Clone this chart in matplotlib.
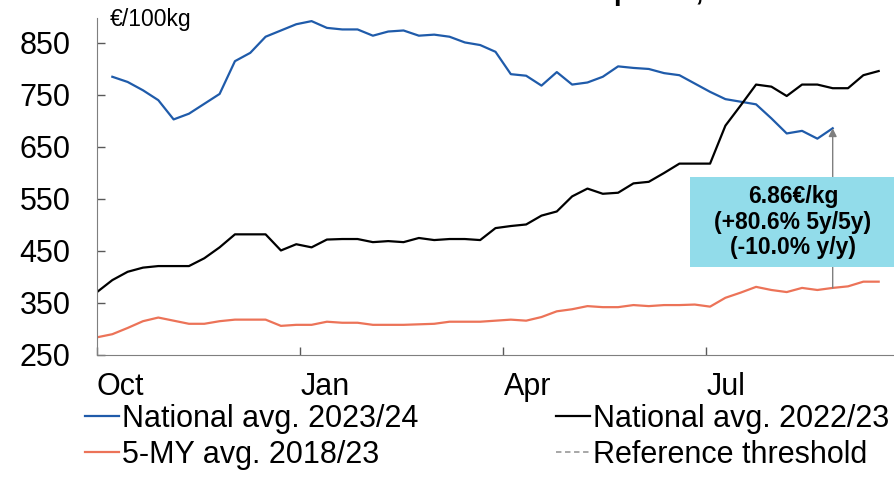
import numpy as np
import matplotlib
matplotlib.use("Agg")
import matplotlib.pyplot as plt
from matplotlib.patches import Rectangle

plt.rcParams['font.family'] = ['Liberation Sans', 'DejaVu Sans']

# weekly prices, €/100kg (marketing year Oct-Sep)
weeks_2324 = np.arange(1, 49)
nat_2324 = [785, 775, 759, 740, 703, 714, 733, 752, 815, 831, 862, 874, 886,
            892, 879, 876, 876, 864, 872, 874, 864, 866, 862, 851, 846, 833,
            790, 787, 768, 794, 770, 774, 785, 805, 802, 800, 792, 788, 772,
            756, 742, 737, 732, 705, 676, 681, 666, 686]

weeks_full = np.arange(0, 52)
nat_2223 = [371, 394, 410, 418, 421, 421, 421, 436, 457, 482, 482, 482, 451,
            463, 457, 472, 473, 473, 467, 469, 467, 475, 471, 473, 473, 471,
            494, 498, 501, 518, 526, 555, 570, 560, 562, 580, 583, 600, 618,
            618, 618, 691, 730, 770, 766, 748, 770, 770, 763, 763, 788, 796]
avg_5y = [284, 290, 302, 315, 322, 316, 310, 310, 315, 318, 318, 318, 306,
          308, 308, 314, 312, 312, 308, 308, 308, 309, 310, 314, 314, 314,
          316, 318, 316, 323, 334, 338, 344, 342, 342, 346, 344, 346, 346,
          347, 343, 360, 370, 381, 375, 371, 379, 375, 379, 382, 391, 391]

month_pos = [0, 13.26, 26.52, 39.74]
month_labels = ['Oct', 'Jan', 'Apr', 'Jul']

fig = plt.figure(figsize=(8.94, 4.79), dpi=100)
ax = fig.add_axes([97 / 894, 1 - 355 / 479, 1 - 97 / 894, (355 - 18) / 479])

l1, = ax.plot(weeks_2324, nat_2324, color='#1F5BAA', lw=1.6, label='National avg. 2023/24')
l2, = ax.plot(weeks_full, nat_2223, color='black', lw=1.6, label='National avg. 2022/23')
l3, = ax.plot(weeks_full, avg_5y, color='#EC7358', lw=1.6, label='5-MY avg. 2018/23')
l4, = ax.plot([], [], color='#A0A0A0', lw=1.3, ls=(0, (3, 2)), label='Reference threshold')

ax.set_xlim(0, 52)
ax.set_ylim(250, 898)
ax.set_yticks(range(250, 851, 100))
ax.set_xticks(month_pos)
ax.set_xticklabels(month_labels, ha='left')

for s in ['top', 'right']:
    ax.spines[s].set_visible(False)
for s in ['left', 'bottom']:
    ax.spines[s].set_color('#7F7F7F')
ax.tick_params(axis='both', direction='in', length=6, width=1, color='#595959',
               labelsize=22)
ax.tick_params(axis='y', pad=19)
ax.tick_params(axis='x', pad=12)

# arrow from 5y avg to current value
last = weeks_2324[-1]
ax.annotate('', xy=(last, nat_2324[-1]), xytext=(last, avg_5y[last]),
            arrowprops=dict(arrowstyle='-|>', color='#7F7F7F', lw=1,
                            mutation_scale=12, shrinkA=0, shrinkB=0))

fig.add_artist(Rectangle((690 / 894, 1 - 267 / 479), 210 / 894, 90 / 479,
                         transform=fig.transFigure, facecolor='#92DCEA',
                         edgecolor='none', zorder=3))
fig.text(793 / 894, 1 - 222 / 479, '6.86€/kg\n(+80.6% 5y/5y)\n(-10.0% y/y)',
         ha='center', va='center', fontsize=16.5, fontweight='bold',
         linespacing=1.15, zorder=4)

fig.text(110 / 894, 1 - 26 / 479, '€/100kg', fontsize=16.5, va='baseline')

# title, mostly outside the canvas
fig.text(614 / 894, 1.0, 'prices, EU', fontsize=20, fontweight='bold',
         ha='left', va='baseline')
fig.text(614 / 894, 1.0, 'Olive oil ', fontsize=20, fontweight='bold',
         ha='right', va='baseline')

fig.legend(handles=[l1, l3, l2, l4], ncol=2, loc='upper left',
           bbox_to_anchor=(85 / 894, 1 - 404 / 479), frameon=False,
           fontsize=22, handlelength=1.12, handletextpad=0.1,
           columnspacing=4.5, labelspacing=0.2, borderpad=0, borderaxespad=0)

fig.savefig('out.png', dpi=100)
